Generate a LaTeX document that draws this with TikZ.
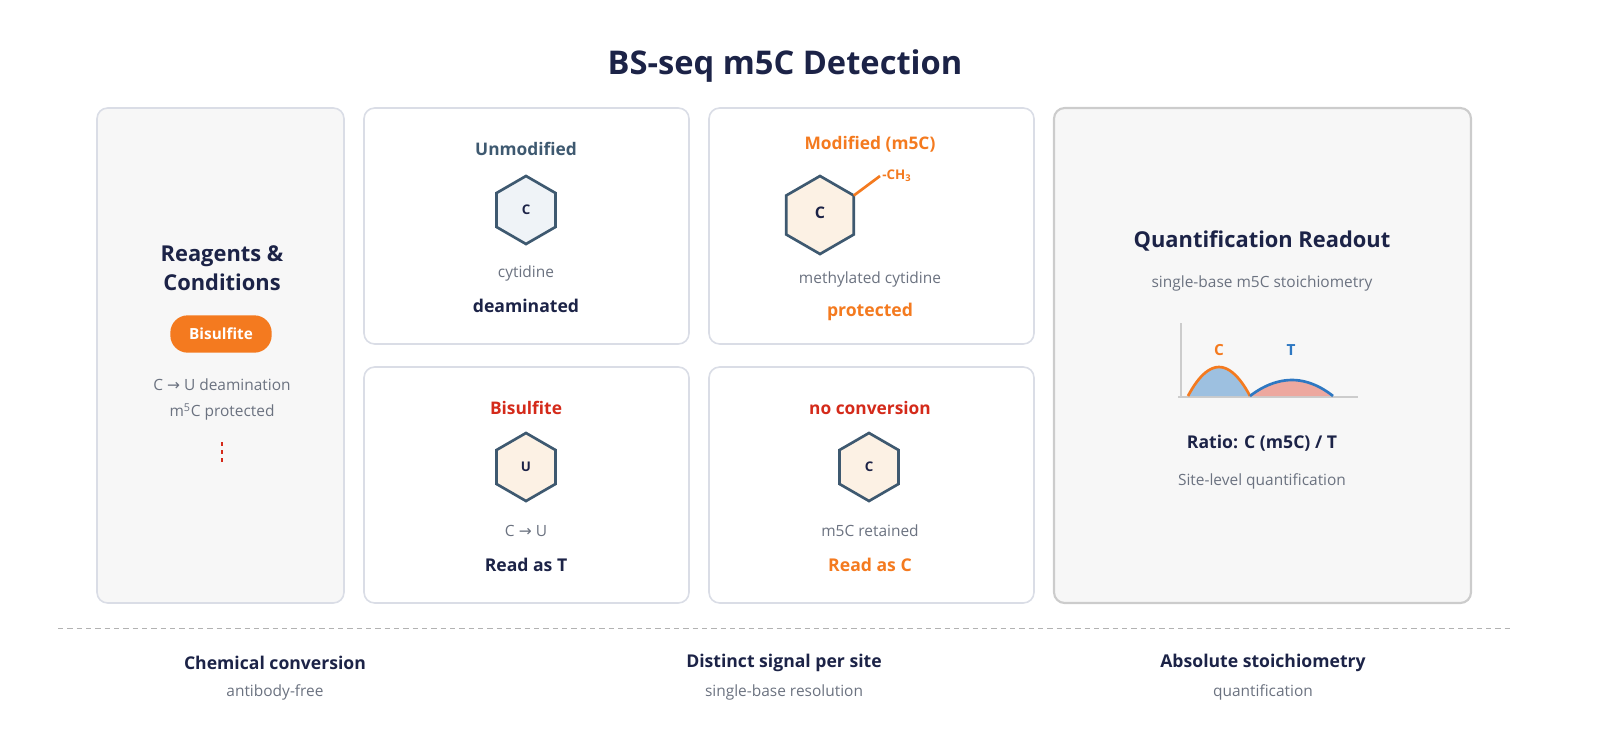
\documentclass[tikz,border=0pt]{standalone}
\usepackage{fontspec}
\setmainfont{Open Sans}
\newfontfamily\arr{DejaVu Sans}
\usetikzlibrary{positioning}
\definecolor{navy}{HTML}{1C2347}
\definecolor{slate}{HTML}{3E5970}
\definecolor{grey}{HTML}{6B7280}
\definecolor{orng}{HTML}{F47A1F}
\definecolor{redd}{HTML}{D42A1A}
\definecolor{cream}{HTML}{FCF1E4}
\definecolor{pale}{HTML}{EFF3F7}
\definecolor{bord}{HTML}{DADDE6}
\definecolor{bluef}{HTML}{9DC0E0}
\definecolor{bluel}{HTML}{2E78C2}
\definecolor{pinkf}{HTML}{EDA89F}
\tikzset{
  panel/.style={draw=bord, line width=1.2pt, rounded corners=8pt, fill=white},
  head/.style={font=\bfseries\fontsize{13}{15}\selectfont},
  big/.style={font=\bfseries\fontsize{16.4}{19}\selectfont, text=navy, align=center},
  note/.style={font=\fontsize{11.6}{14}\selectfont, text=grey},
  tag/.style={font=\bfseries\fontsize{13.2}{15}\selectfont},
  base/.style={font=\bfseries\fontsize{10}{12}\selectfont, text=navy},
}
\newcommand{\hexa}[3]{% centre, radius, fill
  \draw[slate, line width=2pt, fill=#3] (#1) +(30:#2) -- +(90:#2) -- +(150:#2) -- +(210:#2) -- +(270:#2) -- +(330:#2) -- cycle;}
\begin{document}
\begin{tikzpicture}[x=0.75pt,y=0.75pt,yscale=-1,xscale=1]
        \useasboundingbox (0,0) rectangle (1600,747);

        % title
        \node[font=\bfseries\fontsize{24.5}{28}\selectfont, text=navy] (title) at (785,66) {BS-seq m5C Detection};

        % panels
        \draw[panel, fill=black!3] (97,108) rectangle (344,603);
        \draw[panel] (364,108) rectangle (689,344);
        \draw[panel] (709,108) rectangle (1034,344);
        \draw[panel] (364,367) rectangle (689,603);
        \draw[panel] (709,367) rectangle (1034,603);
        \draw[panel, draw=black!20, fill=black!3, line width=1.6pt] (1054,108) rectangle (1471,603);

        % reagents
        \node[big] (reag) at (222,268) {Reagents \&\\[3pt]Conditions};
        \node[fill=orng, rounded corners=13pt, minimum width=76pt, minimum height=28pt, text=white, font=\bfseries\fontsize{11.5}{13}\selectfont] (pill) at (221,334) {Bisulfite};
        \node[note] (deam) at (222,385) {C {\arr →} U deamination};
        \node[note] (prot) at (222,412) {m\textsuperscript{5}C protected};
        \draw[redd, line width=1.5pt, dash pattern=on 3pt off 3pt] (222,442) -- (222,464);

        % unmodified
        \node[head, text=slate] (unmod) at (526,149) {Unmodified};
        \hexa{526,210}{34}{pale}
        \node[base] (c1) at (526,210) {C};
        \node[note] (cyt) at (526,273) {cytidine};
        \node[tag, text=navy] (deamd) at (526,306) {deaminated};

        % modified
        \node[head, text=orng] (mod) at (870,144) {Modified (m5C)};
        \hexa{820,215}{39}{cream}
        \node[base, font=\bfseries\fontsize{12}{14}\selectfont] (c2) at (820,213) {C};
        \draw[orng, line width=2pt] (853.8,195.5) -- (880,176);
        \node[text=orng, font=\bfseries\fontsize{10}{11}\selectfont, anchor=west, inner sep=0pt] (ch3) at (882,176) {-CH\textsubscript{3}};
        \node[note] (mcyt) at (870,279) {methylated cytidine};
        \node[tag, text=orng] (protd) at (870,312) {protected};

        % bisulfite
        \node[head, text=redd] (bis) at (526,408) {Bisulfite};
        \hexa{526,467}{34}{cream}
        \node[base] (u1) at (526,467) {U};
        \node[note] (cu) at (526,531) {C {\arr →} U};
        \node[tag, text=navy] (readt) at (526,565) {Read as T};

        % no conversion
        \node[head, text=redd] (nocv) at (870,408) {no conversion};
        \hexa{869,467}{34}{cream}
        \node[base] (c3) at (869,467) {C};
        \node[note] (ret) at (870,531) {m5C retained};
        \node[tag, text=orng] (readc) at (870,565) {Read as C};

        % readout
        \node[big] (quant) at (1262,241) {Quantification Readout};
        \node[note] (stoich) at (1262,283) {single-base m5C stoichiometry};
        \draw[black!20, line width=1.5pt] (1181,323) -- (1181,397) (1178,397) -- (1358,397);
        \fill[bluef] (1188,396) parabola bend (1219,367) (1250,396) -- cycle;
        \fill[pinkf] (1250,396) parabola bend (1292,380) (1333,396) -- cycle;
        \draw[orng, line width=2pt] (1188,396) parabola bend (1219,367) (1250,396);
        \draw[bluel, line width=2pt] (1250,396) parabola bend (1292,380) (1333,396);
        \node[text=orng, font=\bfseries\fontsize{11.5}{13}\selectfont] (lc) at (1219,350) {C};
        \node[text=bluel, font=\bfseries\fontsize{11.5}{13}\selectfont] (lt) at (1291,350) {T};
        \node[tag, text=navy] (ratio) at (1262,443) {Ratio: C (m5C) / T};
        \node[note] (site) at (1262,481) {Site-level quantification};

        % footer
        \draw[black!30, dash pattern=on 4pt off 3pt] (58,628) -- (1510,628);
        \node[tag, text=navy] (f1) at (275,663) {Chemical conversion};
        \node[note] (f1b) at (275,692) {antibody-free};
        \node[tag, text=navy] (f2) at (784,663) {Distinct signal per site};
        \node[note] (f2b) at (784,692) {single-base resolution};
        \node[tag, text=navy] (f3) at (1263,663) {Absolute stoichiometry};
        \node[note] (f3b) at (1263,692) {quantification};
\end{tikzpicture}
\end{document}
